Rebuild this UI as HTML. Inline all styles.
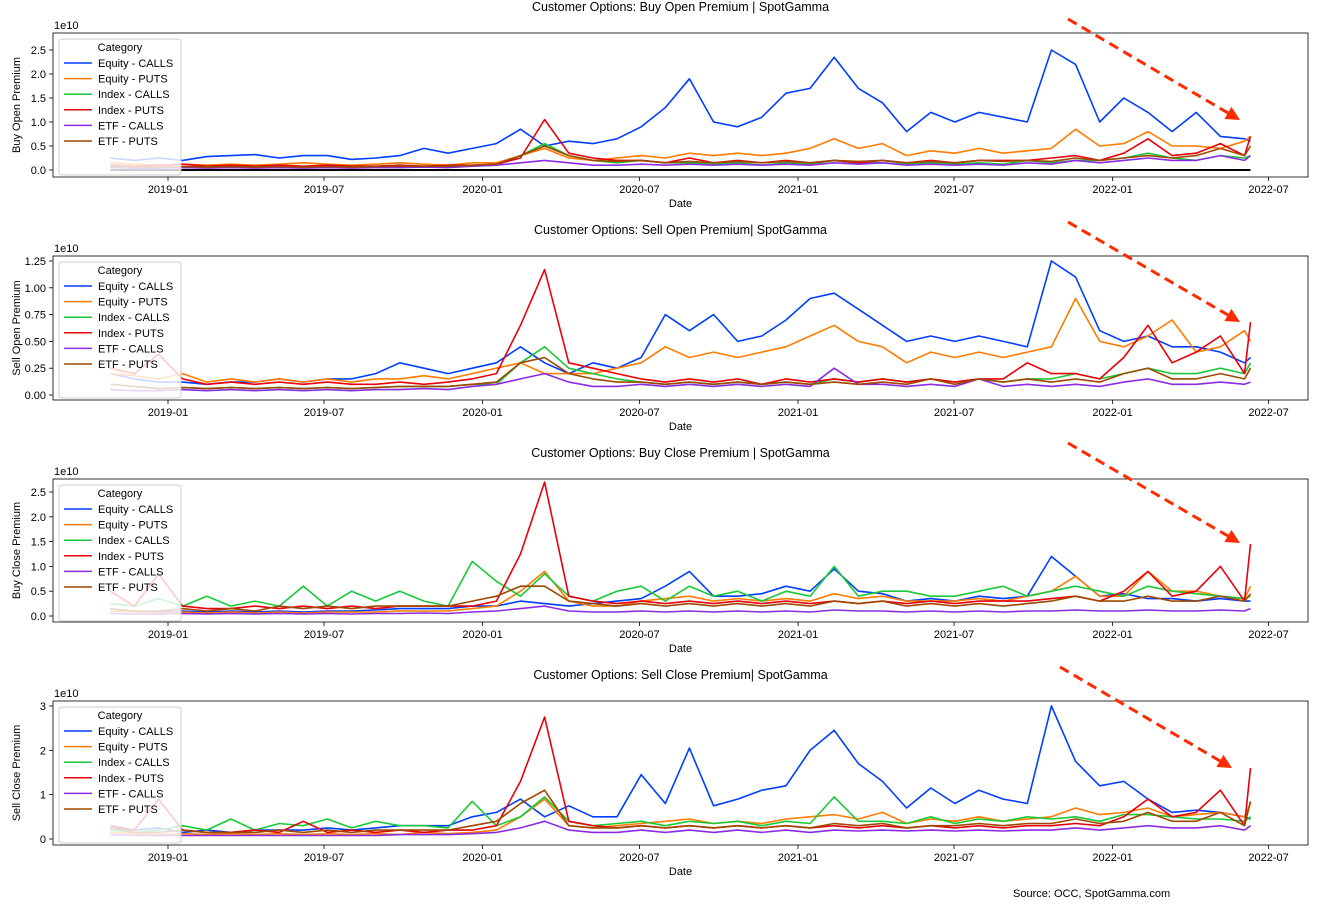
<!DOCTYPE html>
<html><head><meta charset="utf-8"><style>
html,body{margin:0;padding:0;background:#fff;}
svg{display:block;font-family:"Liberation Sans","DejaVu Sans",sans-serif;}
</style></head><body>
<svg id="chart" width="1318" height="907" viewBox="0 0 1318 907">
<text x="1013" y="897" font-size="11" fill="#000">Source: OCC, SpotGamma.com</text>
</svg>
<script>
// ---- data (values in units of 1e10) ----
const seriesNames = ["Equity - CALLS","Equity - PUTS","Index - CALLS","Index - PUTS","ETF - CALLS","ETF - PUTS"];
const panelTitles = ["Customer Options: Buy Open Premium | SpotGamma","Customer Options: Sell Open Premium| SpotGamma","Customer Options: Buy Close Premium | SpotGamma","Customer Options: Sell Close Premium| SpotGamma"];
const yLabels = ["Buy Open Premium","Sell Open Premium","Buy Close Premium","Sell Close Premium"];
const xTickLabels = ["2019-01","2019-07","2020-01","2020-07","2021-01","2021-07","2022-01","2022-07"];
const yTicks1 = [0,0.5,1.0,1.5,2.0,2.5];
const yTicks2 = [0,0.25,0.5,0.75,1.0,1.25];
const yTicks3 = [0,0.5,1.0,1.5,2.0,2.5];
const yTicks4 = [0,1,2,3];
const startDate = "2018-10-26";
const endDate = "2022-06-10";

const p1EqC=[0.25,0.2,0.25,0.2,0.28,0.3,0.32,0.25,0.3,0.3,0.22,0.25,0.3,0.45,0.35,0.45,0.55,0.85,0.5,0.6,0.55,0.65,0.9,1.3,1.9,1.0,0.9,1.1,1.6,1.7,2.35,1.7,1.4,0.8,1.2,1.0,1.2,1.1,1.0,2.5,2.2,1.0,1.5,1.2,0.8,1.2,0.7,0.65,0.6];
const p1EqP=[0.15,0.12,0.1,0.12,0.1,0.12,0.1,0.12,0.15,0.12,0.1,0.12,0.15,0.12,0.1,0.15,0.15,0.3,0.45,0.25,0.2,0.25,0.3,0.25,0.35,0.3,0.35,0.3,0.35,0.45,0.65,0.45,0.55,0.3,0.4,0.35,0.45,0.35,0.4,0.45,0.85,0.5,0.55,0.8,0.5,0.5,0.45,0.6,0.7];
const p1IdxC=[0.08,0.05,0.05,0.06,0.05,0.06,0.05,0.06,0.05,0.06,0.05,0.06,0.05,0.08,0.06,0.08,0.1,0.3,0.55,0.3,0.2,0.15,0.2,0.15,0.15,0.12,0.15,0.1,0.15,0.12,0.2,0.15,0.15,0.12,0.15,0.12,0.15,0.12,0.2,0.15,0.2,0.2,0.25,0.35,0.25,0.2,0.3,0.25,0.3];
const p1IdxP=[0.1,0.08,0.1,0.12,0.08,0.1,0.08,0.1,0.08,0.1,0.08,0.08,0.1,0.08,0.1,0.1,0.12,0.25,1.05,0.35,0.25,0.2,0.2,0.15,0.25,0.15,0.2,0.15,0.2,0.15,0.2,0.15,0.2,0.15,0.2,0.15,0.2,0.2,0.2,0.25,0.3,0.2,0.35,0.65,0.3,0.35,0.55,0.3,0.7];
const p1EtfC=[0.05,0.04,0.04,0.05,0.04,0.05,0.04,0.05,0.04,0.05,0.04,0.05,0.05,0.06,0.05,0.08,0.1,0.15,0.2,0.15,0.1,0.1,0.12,0.1,0.12,0.1,0.12,0.1,0.12,0.1,0.15,0.12,0.15,0.1,0.12,0.1,0.12,0.1,0.15,0.12,0.2,0.15,0.2,0.25,0.2,0.2,0.3,0.2,0.3];
const p1EtfP=[0.08,0.06,0.06,0.07,0.06,0.07,0.06,0.07,0.06,0.07,0.06,0.07,0.08,0.08,0.08,0.1,0.12,0.3,0.5,0.3,0.2,0.18,0.2,0.15,0.18,0.15,0.18,0.15,0.18,0.15,0.2,0.18,0.2,0.15,0.18,0.15,0.2,0.18,0.2,0.18,0.25,0.2,0.25,0.3,0.25,0.3,0.45,0.3,0.5];

const p2EqC=[0.2,0.15,0.12,0.12,0.1,0.12,0.12,0.15,0.12,0.15,0.15,0.2,0.3,0.25,0.2,0.25,0.3,0.45,0.3,0.2,0.3,0.25,0.35,0.75,0.6,0.75,0.5,0.55,0.7,0.9,0.95,0.8,0.65,0.5,0.55,0.5,0.55,0.5,0.45,1.25,1.1,0.6,0.5,0.55,0.45,0.45,0.4,0.3,0.35];
const p2EqP=[0.2,0.18,0.15,0.2,0.12,0.15,0.12,0.15,0.12,0.15,0.12,0.15,0.15,0.18,0.15,0.2,0.25,0.3,0.2,0.2,0.2,0.25,0.3,0.45,0.35,0.4,0.35,0.4,0.45,0.55,0.65,0.5,0.45,0.3,0.4,0.35,0.4,0.35,0.4,0.45,0.9,0.5,0.45,0.55,0.7,0.4,0.45,0.6,0.5];
const p2IdxC=[0.1,0.08,0.06,0.07,0.06,0.07,0.06,0.07,0.06,0.07,0.06,0.07,0.08,0.08,0.08,0.1,0.1,0.3,0.45,0.25,0.2,0.15,0.12,0.1,0.12,0.1,0.12,0.1,0.12,0.1,0.15,0.12,0.15,0.12,0.15,0.12,0.15,0.12,0.15,0.15,0.2,0.15,0.2,0.25,0.2,0.2,0.25,0.2,0.3];
const p2IdxP=[0.25,0.2,0.38,0.15,0.1,0.12,0.1,0.12,0.1,0.12,0.1,0.1,0.12,0.1,0.12,0.15,0.2,0.65,1.17,0.3,0.25,0.2,0.15,0.12,0.15,0.12,0.15,0.1,0.15,0.12,0.15,0.12,0.15,0.12,0.15,0.12,0.15,0.15,0.3,0.2,0.2,0.15,0.35,0.65,0.3,0.4,0.55,0.2,0.68];
const p2EtfC=[0.05,0.04,0.04,0.05,0.04,0.05,0.04,0.05,0.04,0.05,0.04,0.05,0.05,0.06,0.05,0.08,0.1,0.15,0.2,0.12,0.08,0.08,0.1,0.08,0.1,0.08,0.1,0.08,0.1,0.08,0.25,0.1,0.1,0.08,0.1,0.08,0.15,0.08,0.1,0.08,0.1,0.08,0.12,0.15,0.1,0.1,0.12,0.1,0.12];
const p2EtfP=[0.1,0.08,0.06,0.07,0.06,0.07,0.06,0.07,0.06,0.07,0.06,0.07,0.08,0.08,0.08,0.1,0.12,0.3,0.35,0.2,0.15,0.12,0.12,0.1,0.12,0.1,0.12,0.1,0.12,0.1,0.12,0.1,0.12,0.1,0.15,0.1,0.15,0.12,0.15,0.12,0.15,0.12,0.2,0.25,0.15,0.15,0.2,0.15,0.25];

const p3EqC=[0.1,0.1,0.08,0.1,0.08,0.1,0.08,0.1,0.08,0.1,0.1,0.12,0.15,0.15,0.15,0.2,0.2,0.3,0.25,0.2,0.25,0.3,0.35,0.6,0.9,0.4,0.4,0.45,0.6,0.5,0.95,0.5,0.45,0.3,0.35,0.3,0.4,0.35,0.4,1.2,0.8,0.4,0.45,0.35,0.35,0.3,0.35,0.3,0.3];
const p3EqP=[0.1,0.08,0.06,0.08,0.06,0.08,0.06,0.08,0.06,0.08,0.08,0.08,0.1,0.1,0.1,0.15,0.2,0.5,0.9,0.3,0.2,0.2,0.3,0.35,0.4,0.3,0.35,0.3,0.35,0.3,0.45,0.35,0.4,0.3,0.3,0.3,0.35,0.3,0.4,0.5,0.8,0.4,0.4,0.9,0.5,0.5,0.4,0.35,0.6];
const p3IdxC=[0.25,0.2,0.35,0.2,0.4,0.2,0.3,0.2,0.6,0.2,0.5,0.3,0.5,0.3,0.2,1.1,0.7,0.4,0.85,0.4,0.3,0.5,0.6,0.3,0.6,0.4,0.5,0.3,0.5,0.4,1.0,0.4,0.5,0.5,0.4,0.4,0.5,0.6,0.4,0.5,0.6,0.5,0.4,0.6,0.5,0.45,0.4,0.35,0.4];
const p3IdxP=[0.5,0.2,0.85,0.2,0.15,0.15,0.2,0.15,0.2,0.15,0.2,0.15,0.2,0.2,0.2,0.2,0.3,1.25,2.7,0.4,0.3,0.25,0.3,0.25,0.3,0.25,0.3,0.25,0.3,0.25,0.3,0.25,0.3,0.25,0.3,0.25,0.3,0.3,0.3,0.35,0.4,0.3,0.5,0.9,0.4,0.5,1.0,0.3,1.45];
const p3EtfC=[0.05,0.04,0.04,0.05,0.04,0.05,0.04,0.05,0.04,0.05,0.04,0.05,0.05,0.06,0.05,0.08,0.1,0.15,0.2,0.1,0.08,0.08,0.1,0.08,0.1,0.08,0.1,0.08,0.1,0.08,0.12,0.1,0.1,0.08,0.1,0.08,0.1,0.08,0.1,0.1,0.12,0.1,0.1,0.12,0.1,0.1,0.12,0.1,0.15];
const p3EtfP=[0.15,0.1,0.1,0.15,0.1,0.15,0.1,0.2,0.15,0.2,0.15,0.2,0.2,0.2,0.2,0.3,0.4,0.6,0.6,0.3,0.25,0.2,0.25,0.2,0.25,0.2,0.25,0.2,0.25,0.2,0.3,0.25,0.3,0.2,0.25,0.2,0.25,0.2,0.25,0.3,0.4,0.3,0.3,0.4,0.3,0.3,0.4,0.3,0.45];

const p4EqC=[0.25,0.2,0.25,0.15,0.2,0.15,0.2,0.2,0.2,0.25,0.2,0.25,0.3,0.3,0.3,0.5,0.6,0.9,0.5,0.75,0.5,0.5,1.45,0.8,2.05,0.75,0.9,1.1,1.2,2.0,2.45,1.7,1.3,0.7,1.15,0.8,1.1,0.9,0.8,3.0,1.75,1.2,1.3,0.9,0.6,0.65,0.6,0.5,0.45];
const p4EqP=[0.15,0.12,0.1,0.12,0.1,0.12,0.1,0.12,0.1,0.12,0.1,0.12,0.1,0.15,0.12,0.15,0.2,0.5,0.9,0.3,0.25,0.3,0.35,0.4,0.45,0.35,0.4,0.35,0.45,0.5,0.55,0.45,0.6,0.35,0.45,0.4,0.5,0.4,0.45,0.5,0.7,0.55,0.6,0.7,0.5,0.55,0.6,0.5,0.8];
const p4IdxC=[0.2,0.15,0.2,0.3,0.2,0.45,0.2,0.35,0.3,0.45,0.25,0.4,0.3,0.3,0.25,0.85,0.3,0.5,0.95,0.4,0.3,0.35,0.4,0.3,0.4,0.35,0.4,0.3,0.4,0.35,0.95,0.4,0.4,0.35,0.5,0.35,0.45,0.4,0.5,0.45,0.5,0.4,0.55,0.55,0.5,0.45,0.45,0.4,0.5];
const p4IdxP=[0.3,0.2,0.9,0.2,0.15,0.15,0.2,0.15,0.4,0.15,0.2,0.15,0.2,0.15,0.2,0.2,0.3,1.3,2.75,0.4,0.3,0.25,0.3,0.25,0.3,0.25,0.3,0.25,0.3,0.25,0.3,0.25,0.3,0.25,0.3,0.25,0.3,0.25,0.3,0.3,0.35,0.3,0.5,0.9,0.5,0.6,1.1,0.3,1.6];
const p4EtfC=[0.1,0.08,0.08,0.08,0.08,0.08,0.08,0.08,0.08,0.08,0.08,0.08,0.1,0.1,0.1,0.12,0.15,0.25,0.4,0.2,0.15,0.15,0.2,0.15,0.2,0.15,0.2,0.15,0.2,0.15,0.2,0.18,0.2,0.18,0.2,0.18,0.2,0.18,0.2,0.2,0.25,0.2,0.25,0.3,0.25,0.25,0.3,0.2,0.3];
const p4EtfP=[0.25,0.15,0.15,0.2,0.15,0.15,0.15,0.2,0.15,0.2,0.15,0.2,0.2,0.2,0.2,0.3,0.4,0.8,1.1,0.3,0.25,0.25,0.3,0.25,0.3,0.25,0.3,0.25,0.3,0.25,0.35,0.3,0.35,0.25,0.3,0.3,0.35,0.3,0.35,0.35,0.45,0.35,0.4,0.6,0.4,0.4,0.6,0.3,0.85];

// ---- rendering ----
const NS="http://www.w3.org/2000/svg";
const svg=document.getElementById('chart');
const colors=["#023eff","#ff7c00","#1ac938","#e8000b","#8b2be2","#9f4800"];
function el(tag,attrs,parent){const e=document.createElementNS(NS,tag);for(const k in attrs)e.setAttribute(k,attrs[k]);(parent||svg).appendChild(e);return e;}
const DAY=86400000;
const xRef=Date.UTC(2019,0,1), xRefPx=168, pxPerDay=156/181;
function xScale(t){return xRefPx+(t-xRef)/DAY*pxPerDay;}
function parseD(s){const p=s.split('-');return Date.UTC(+p[0],+p[1]-1,+(p[2]||1));}
function makeDates(n){const s=parseD(startDate),e=parseD(endDate);const out=[];for(let i=0;i<n;i++){out.push(i<n-1?s+i*28*DAY:e);}return out;}

const panels=[
 {top:33,bottom:177,y0:170,yMax:2.5,yTop:50,ticks:yTicks1,fmt:v=>v.toFixed(1),data:[p1EqC,p1EqP,p1IdxC,p1IdxP,p1EtfC,p1EtfP],zero:true,arrow:[1068,19,1240,120]},
 {top:256,bottom:400,y0:395,yMax:1.25,yTop:261,ticks:yTicks2,fmt:v=>v.toFixed(2),data:[p2EqC,p2EqP,p2IdxC,p2IdxP,p2EtfC,p2EtfP],arrow:[1068,222,1240,322]},
 {top:479,bottom:622,y0:616,yMax:2.5,yTop:492,ticks:yTicks3,fmt:v=>v.toFixed(1),data:[p3EqC,p3EqP,p3IdxC,p3IdxP,p3EtfC,p3EtfP],arrow:[1068,443,1240,543]},
 {top:701,bottom:845,y0:839,yMax:3,yTop:706,ticks:yTicks4,fmt:v=>String(v),data:[p4EqC,p4EqP,p4IdxC,p4IdxP,p4EtfC,p4EtfP],arrow:[1060,667,1232,768]}
];
const L=53,R=1308;
panels.forEach((p,pi)=>{
  const g=el('g',{});
  
  
  const yScale=v=>p.y0-(v/p.yMax)*(p.y0-p.yTop);
  const t=el('text',{x:(L+R)/2,y:p.top-22,'text-anchor':'middle','font-size':12.5},g);t.textContent=panelTitles[pi];
  
  const e=el('text',{x:L+1,y:p.top-4,'font-size':11},g);e.textContent='1e10';
  
  p.ticks.forEach(v=>{const y=yScale(v);el('line',{x1:L-4,x2:L,y1:y,y2:y,stroke:'#000','stroke-width':0.8},g);
    const tt=el('text',{x:L-7,y:y+4,'text-anchor':'end','font-size':11},g);tt.textContent=p.fmt(v);
    });
  xTickLabels.forEach(s=>{const x=xScale(parseD(s));el('line',{x1:x,x2:x,y1:p.bottom,y2:p.bottom+4,stroke:'#000','stroke-width':0.8},g);
    const tt=el('text',{x:x,y:p.bottom+16,'text-anchor':'middle','font-size':11},g);tt.textContent=s;
    });
  const xl=el('text',{x:(L+R)/2,y:p.bottom+30,'text-anchor':'middle','font-size':11},g);xl.textContent='Date';
  
  const yc=(p.top+p.bottom)/2;
  const yl=el('text',{x:20,y:yc,'text-anchor':'middle','font-size':11,transform:`rotate(-90 20 ${yc})`},g);yl.textContent=yLabels[pi];
  
  if(p.zero){const d=makeDates(p.data[0].length);const z=el('line',{x1:xScale(d[0]),x2:xScale(d[d.length-1]),y1:yScale(0),y2:yScale(0),stroke:'#000','stroke-width':2},g);
    }
  p.data.forEach((arr,si)=>{const d=makeDates(arr.length);
    const pts=arr.map((v,i)=>xScale(d[i]).toFixed(1)+','+yScale(v).toFixed(1)).join(' ');
    const pl=el('polyline',{points:pts,fill:'none',stroke:colors[si],'stroke-width':1.6,'stroke-linejoin':'round'},g);
    
    });
  const fr=el('rect',{x:L,y:p.top,width:R-L,height:p.bottom-p.top,fill:'none',stroke:'#000','stroke-width':0.8},g);
  
  // legend
  const lg=el('g',{},g);
  
  el('rect',{x:59,y:p.top+6,width:122,height:136,rx:3,fill:'#fff','fill-opacity':0.8,stroke:'#ccc'},lg);
  const lt=el('text',{x:120,y:p.top+18,'text-anchor':'middle','font-size':11},lg);lt.textContent='Category';
  seriesNames.forEach((n,si)=>{const y=p.top+30+si*15.6;
    el('line',{x1:64,x2:92,y1:y,y2:y,stroke:colors[si],'stroke-width':1.5},lg);
    const tx=el('text',{x:98,y:y+4,'font-size':11},lg);tx.textContent=n;
    });
  // arrow
  const [ax1,ay1,ax2,ay2]=p.arrow;const ang=Math.atan2(ay2-ay1,ax2-ax1);
  const bx=ax2-14*Math.cos(ang),by=ay2-14*Math.sin(ang);
  const ar=el('g',{},g);
  el('line',{x1:ax1,y1:ay1,x2:bx,y2:by,stroke:'#ff2a00','stroke-width':3,'stroke-dasharray':'10,6'},ar);
  const px=-Math.sin(ang),py=Math.cos(ang);
  el('polygon',{points:`${ax2},${ay2} ${bx+7*px},${by+7*py} ${bx-7*px},${by-7*py}`,fill:'#ff2a00'},ar);
});
</script>
</body></html>
